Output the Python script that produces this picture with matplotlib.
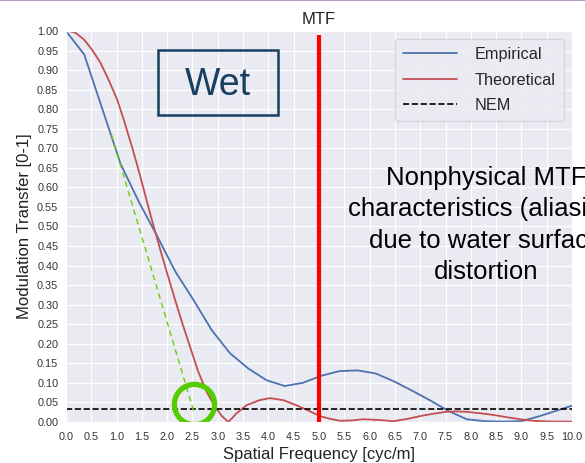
import numpy as np
import matplotlib
matplotlib.use('Agg')
import matplotlib.pyplot as plt
import seaborn as sns
from matplotlib.lines import Line2D
from matplotlib.patches import Rectangle

sns.set_style('darkgrid')
plt.rcParams['font.family'] = ['Liberation Sans', 'DejaVu Sans']

# empirical MTF (sampled every ~0.36 cyc/m)
emp_f = [0.0, 0.36, 0.72, 1.08, 1.44, 1.80, 2.16, 2.52, 2.88, 3.24, 3.60, 3.96,
         4.32, 4.68, 5.04, 5.40, 5.76, 6.12, 6.48, 6.84, 7.20, 7.56, 7.92,
         8.28, 8.64, 9.00, 9.36, 9.72, 10.08]
emp_v = [1.00, 0.94, 0.80, 0.66, 0.563, 0.476, 0.385, 0.312, 0.235, 0.176, 0.137, 0.107,
         0.092, 0.10, 0.118, 0.13, 0.132, 0.124, 0.104, 0.08, 0.055, 0.028, 0.007,
         0.002, 0.001, 0.002, 0.015, 0.03, 0.045]

# theoretical MTF
th_f = [0.0, 0.05, 0.18, 0.35, 0.51, 0.68, 0.84, 1.01, 1.14, 1.24, 1.32, 1.46,
        1.69, 1.92, 2.15, 2.30, 2.45, 2.61, 2.78, 2.94, 3.08, 3.21, 3.37, 3.57,
        3.83, 4.03, 4.29, 4.55, 4.76, 5.02, 5.22, 5.42, 5.65, 5.88, 6.2, 6.47,
        6.75, 7.0, 7.25, 7.52, 7.72, 7.92, 8.2, 8.45, 8.72, 8.97, 9.23, 9.63, 10.0]
th_v = [1.0, 1.0, 0.996, 0.979, 0.953, 0.919, 0.876, 0.825, 0.774, 0.731, 0.697, 0.632,
        0.52, 0.415, 0.315, 0.252, 0.193, 0.13, 0.077, 0.04, 0.015, 0.0, 0.022, 0.043,
        0.056, 0.061, 0.056, 0.043, 0.031, 0.015, 0.008, 0.003, 0.004, 0.007, 0.005, 0.002,
        0.008, 0.015, 0.021, 0.026, 0.027, 0.026, 0.022, 0.018, 0.012, 0.007, 0.003, 0.001, 0.001]

nem = 0.032
nyquist = 5.0
slope_f = [0.90, 2.54]
slope_v = [0.734, 0.02]

fig = plt.figure(figsize=(5.85, 4.63), dpi=100)
ax = fig.add_axes([0.1128, 0.0886, 0.865, 0.8444])

ax.plot(emp_f, emp_v, color='#4C72B0', lw=1.3, label='Empirical')
ax.plot(th_f, th_v, color='#C44E52', lw=1.3, label='Theoretical')
ax.axhline(nem, color='black', lw=1.2, ls='--', label='NEM')
ax.plot(slope_f, slope_v, color='#66d100', lw=1.0, ls='--', dashes=(4, 3))
ax.plot([nyquist, nyquist], [0, 0.99], color='#ff0000', lw=3.0, solid_capstyle='butt')
ax.plot([2.52], [0.046], marker='o', ms=29, mfc='none', mec='#55cc00', mew=3.8)

ax.set_xlim(0, 10)
ax.set_ylim(0, 1.0)
ax.set_xticks(np.arange(0, 10.01, 0.5))
ax.set_yticks(np.arange(0, 1.001, 0.05))
ax.set_xticklabels(['%.1f' % t for t in np.arange(0, 10.01, 0.5)])
ax.set_yticklabels(['%.2f' % t for t in np.arange(0, 1.001, 0.05)])
ax.tick_params(labelsize=7.8, colors='#333333')
ax.tick_params(axis='x', pad=4)
ax.tick_params(axis='y', pad=2)
ax.set_xlabel('Spatial Frequency [cyc/m]', fontsize=12, color='#222222', labelpad=3)
ax.set_ylabel('Modulation Transfer [0-1]', fontsize=12, color='#222222', labelpad=4)
ax.set_title('MTF', fontsize=12, color='#222222', pad=5)

leg = ax.legend(loc='upper right', fontsize=11.7, handlelength=3.3, handletextpad=1.1,
                borderpad=0.5, labelspacing=0.65, bbox_to_anchor=(0.984, 0.98),
                borderaxespad=0, frameon=True, facecolor='#EAEAF2', edgecolor='#d0d0d8')

ax.add_patch(Rectangle((0.182, 0.785), 0.237, 0.166, transform=ax.transAxes,
                       fill=False, ec='#173f5f', lw=1.8, zorder=5))
ax.text(0.30, 0.862, 'Wet', transform=ax.transAxes, fontsize=27, color='#173f5f',
        ha='center', va='center', zorder=5)

fig.text(486 / 585, 1 - 225 / 463,
         'Nonphysical MTF\ncharacteristics (aliasing)\ndue to water surface\ndistortion',
         fontsize=18.5, ha='center', va='center', color='black', linespacing=1.4)

fig.add_artist(Line2D([0, 1], [0.999, 0.999], color='#b79ac9', lw=1.5))

fig.savefig('out.png', dpi=100)
